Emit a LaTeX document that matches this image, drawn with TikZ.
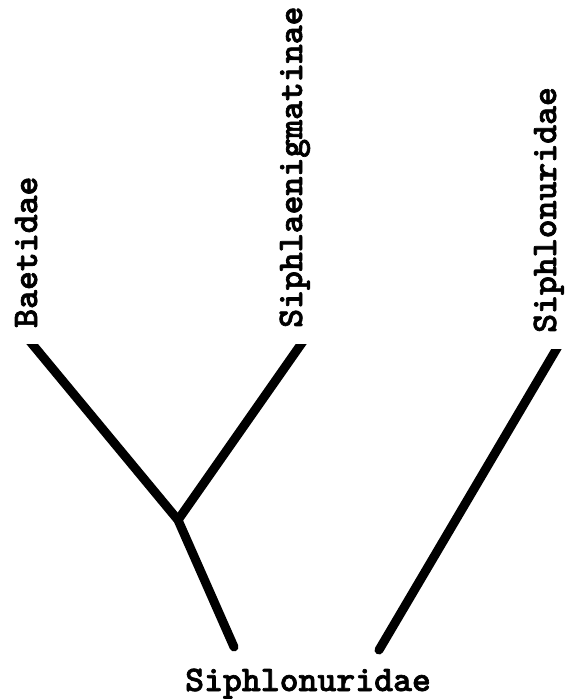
\documentclass[tikz,border=0pt]{standalone}
\usepackage{fontspec}
\newfontfamily\lblfont{lmmonolt10-bold}[Extension=.otf, FakeBold=1.8]
\begin{document}
\begin{tikzpicture}[x=1pt,y=1pt,
  lbl/.style={font=\lblfont\fontsize{36}{40}\selectfont, inner sep=0pt},
  vlbl/.style={lbl, rotate=90, anchor=base west},
  branch/.style={line width=9pt, line join=round, line cap=round}]
\useasboundingbox (0,0) rectangle (573,699);
\node[vlbl] (baet) at (37,371) {Baetidae};
\node[vlbl] (siphlae) at (302,371) {Siphlaenigmatinae};
\node[vlbl] (siphR) at (556,366) {Siphlonuridae};
\node[lbl, anchor=base west] (siphB) at (185,8) {Siphlonuridae};
\coordinate (a) at (28,360);
\coordinate (j) at (178,179);
\coordinate (b) at (304,359);
\coordinate (t) at (234,52);
\coordinate (r) at (560,356);
\coordinate (rb) at (379,49);
\begin{scope}
  \clip (0,0) rectangle (573,354);
  \draw[branch] (a) -- (j) -- (t);
  \draw[branch] (b) -- (j);
\end{scope}
\begin{scope}
  \clip (0,0) rectangle (573,349);
  \draw[branch] (r) -- (rb);
\end{scope}
\end{tikzpicture}
\end{document}
